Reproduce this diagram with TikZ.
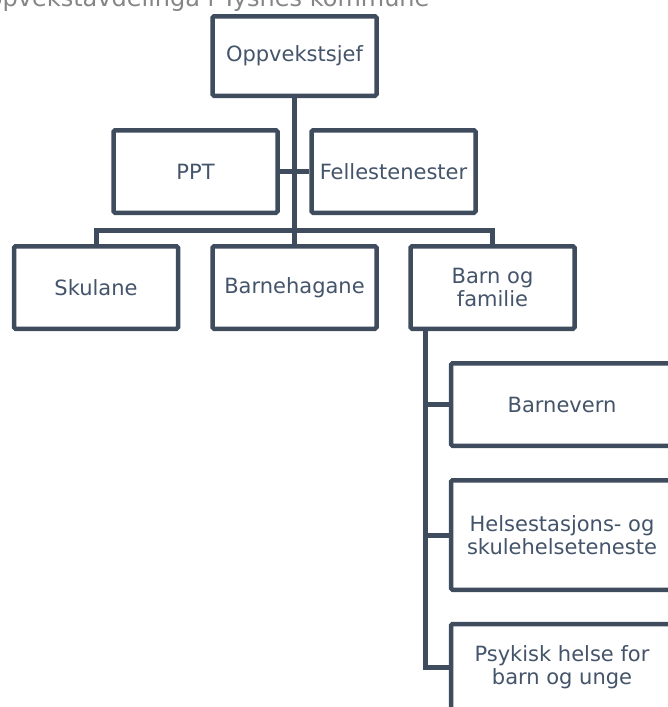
\documentclass[tikz,border=0pt]{standalone}
\usepackage{fontspec}
\setmainfont{DejaVu Sans}
\usetikzlibrary{positioning}
\definecolor{orgslate}{HTML}{3E4C5E}
\definecolor{orgtext}{HTML}{44546A}
\definecolor{orggrey}{HTML}{858585}

\begin{document}
\begin{tikzpicture}[x=1pt,y=-1pt,font=\fontsize{21pt}{23.5pt}\selectfont,
  orgbox/.style={draw=orgslate,line width=4.5pt,rounded corners=1.5pt,fill=white,text=orgtext,align=center,minimum width=164pt,minimum height=82.5pt,inner sep=2pt},
  orglink/.style={draw=orgslate,line width=5pt}]
  \useasboundingbox (0,0) rectangle (668,707);
  \clip (0,0) rectangle (668,707);
  \node[text=orggrey,anchor=base west,font=\fontsize{24pt}{26pt}\selectfont] (titel) at (-35,6.5) {Oppvekstavdelinga i Tysnes kommune};
  \node[orgbox,minimum height=79.5pt] (sjef) at (294.5,56) {Oppvekstsjef};
  \node[orgbox] (ppt) at (195.5,171.5) {PPT};
  \node[orgbox] (felles) at (393.5,171.5) {Fellestenester};
  \foreach \n/\x/\t in {skule/96/Skulane,barnehage/294.5/Barnehagane,barnfam/492.5/{Barn og\\familie}}{
    \node[orgbox] (\n) at (\x,287.5) {\t};
  }
  \node[orgbox,minimum width=222pt] (barnevern) at (562,404.5) {Barnevern};
  \node[orgbox,minimum width=222pt,minimum height=109.5pt] (helse) at (562,535) {Helsestasjons- og\\skulehelseteneste};
  \node[orgbox,minimum width=222pt,minimum height=86pt] (psykisk) at (562,667) {Psykisk helse for\\barn og unge};
  \coordinate (bar) at (294.5,230);
  \draw[orglink] (sjef.south) -- (sjef.south |- bar);
  \draw[orglink] (ppt) -- (felles);
  \draw[orglink] (skule.north) |- (bar) -| (barnfam.north);
  \draw[orglink] (barnehage.north) -- (barnehage.north |- bar);
  \coordinate[right=17.25pt of barnfam.south west] (stem);
  \draw[orglink] (stem) |- (psykisk.west);
  \foreach \n in {barnevern,helse}{
    \draw[orglink] (stem |- \n.west) -- (\n.west);
  }
\end{tikzpicture}
\end{document}
